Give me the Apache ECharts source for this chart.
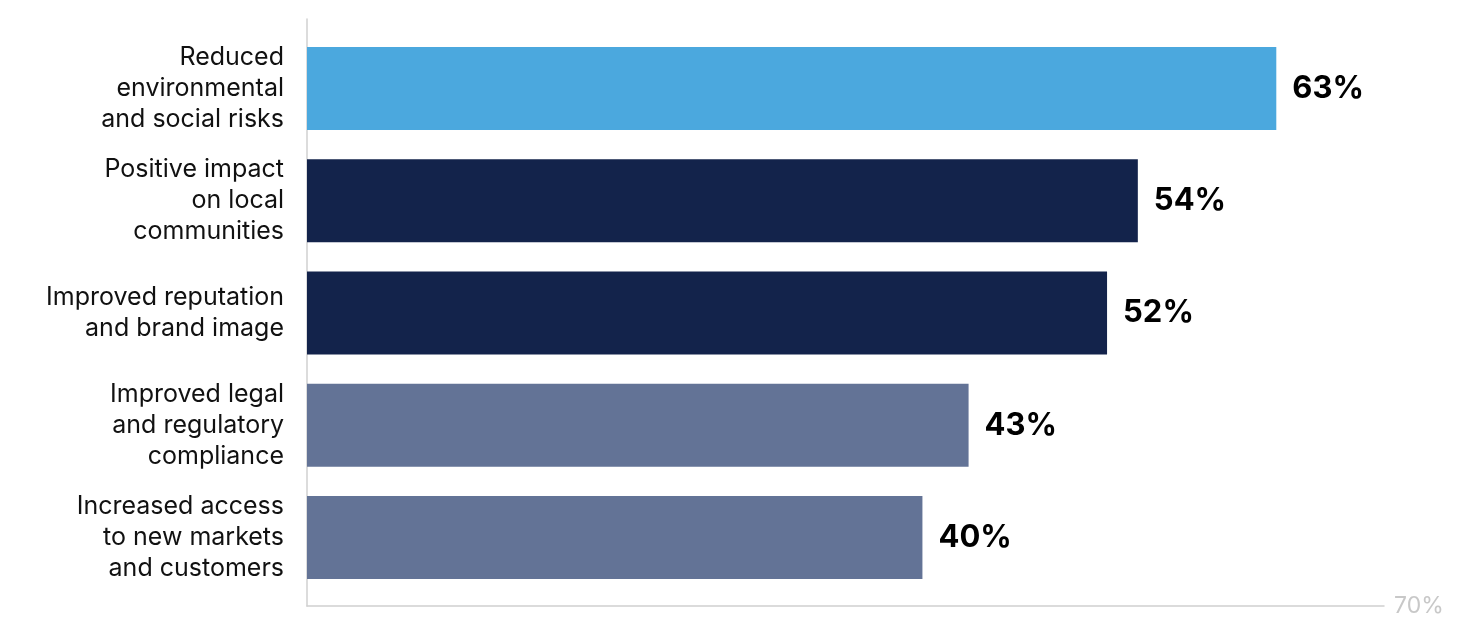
<!DOCTYPE html>
<html>
<head>
<meta charset="utf-8">
<script src="https://cdn.jsdelivr.net/npm/echarts@6/dist/echarts.min.js"></script>
<style>
html,body{margin:0;padding:0;background:#fff;}
#chart{width:1476px;height:624px;}
</style>
</head>
<body>
<div id="chart"></div>
<script>
const categories = [
  "Reduced\nenvironmental\nand social risks",
  "Positive impact\non local\ncommunities",
  "Improved reputation\nand brand image",
  "Improved legal\nand regulatory\ncompliance",
  "Increased access\nto new markets\nand customers"
];
const values = [63, 54, 52, 43, 40];
const barColors = ["#4BA8DE", "#13234B", "#13234B", "#637396", "#637396"];
const axisMax = 70;
const axisMaxLabel = "70%";

const FONT = "Inter, 'Noto Sans', sans-serif";
const chart = echarts.init(document.getElementById('chart'), null, {renderer: 'canvas'});
chart.setOption({
  animation: false,
  backgroundColor: '#fff',
  grid: [
    {left: 307, right: 92, top: 32.5, bottom: 30.5, containLabel: false},
    {left: 307, right: 92, top: 19, bottom: 18, containLabel: false}
  ],
  xAxis: [
    {gridIndex: 0, type: 'value', min: 0, max: axisMax, show: false},
    {gridIndex: 1, type: 'value', min: 0, max: axisMax,
     axisLine: {show: true, lineStyle: {color: '#d0d0d0', width: 1.5}},
     axisTick: {show: false}, axisLabel: {show: false}, splitLine: {show: false},
     name: axisMaxLabel, nameLocation: 'end', nameGap: 10,
     nameTextStyle: {color: '#c8c8c8', fontSize: 23, fontFamily: FONT, verticalAlign: 'middle'}}
  ],
  yAxis: [
    {gridIndex: 0, type: 'category', data: categories, inverse: true,
     axisLine: {show: false}, axisTick: {show: false},
     axisLabel: {color: '#111', fontSize: 25, lineHeight: 31, fontFamily: FONT, margin: 23, align: 'right'}},
    {gridIndex: 1, type: 'category', data: [],
     axisLine: {show: true, lineStyle: {color: '#d0d0d0', width: 1.5}},
     axisTick: {show: false}, axisLabel: {show: false}}
  ],
  series: [{
    type: 'bar',
    xAxisIndex: 0, yAxisIndex: 0,
    data: values.map((v, i) => ({value: v, itemStyle: {color: barColors[i]}})),
    barCategoryGap: '26%',
    label: {show: true, position: 'right', distance: 16, formatter: '{c}%',
            color: '#000', fontSize: 31, fontWeight: 'bold', fontFamily: FONT}
  }]
});
</script>
</body>
</html>
